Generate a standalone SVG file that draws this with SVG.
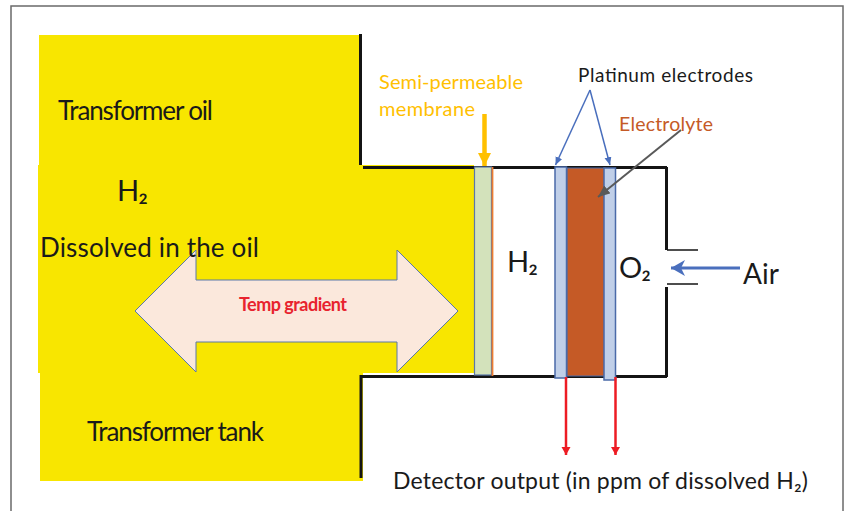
<svg xmlns="http://www.w3.org/2000/svg" width="848" height="511" viewBox="0 0 848 511">
<style>
text{font-family:Lato,"Noto Sans",sans-serif;fill:#1a1a1a}
.wall{stroke:#141414;stroke-width:3;fill:none}
.thin{stroke:#141414;stroke-width:1.3;fill:none}
.red{stroke:#ed1c24;stroke-width:2.5;fill:none}
.blue{stroke:#4a6fbd;stroke-width:1.5;fill:none}
.el{fill:#c0cfe8;stroke:#4a6aa8;stroke-width:1.5}
</style>
<defs>
<marker id="ah-red" markerUnits="userSpaceOnUse" markerWidth="12" markerHeight="10" refX="8" refY="4.5" orient="auto"><path d="M0 0L8 4.5L0 9z" fill="#ed1c24"/></marker>
<marker id="ah-blue" markerUnits="userSpaceOnUse" markerWidth="10" markerHeight="10" refX="8" refY="3.500" orient="auto"><path d="M0 0L8 3.500L0 7z" fill="#4a6fbd"/></marker>
<marker id="ah-gray" markerUnits="userSpaceOnUse" markerWidth="14" markerHeight="12" refX="12" refY="5" orient="auto"><path d="M0 0L12 5L0 10z" fill="#595959"/></marker>
<marker id="ah-orange" markerUnits="userSpaceOnUse" markerWidth="14" markerHeight="16" refX="13" refY="6.500" orient="auto"><path d="M0 0L13 6.500L0 13z" fill="#ffc000"/></marker>
<marker id="ah-air" markerUnits="userSpaceOnUse" markerWidth="18" markerHeight="18" refX="15" refY="8" orient="auto"><path d="M1 0L15 8L1 16L5 8z" fill="#4a6fbd"/></marker>
</defs>
<rect id="frame" x="11" y="6" width="832" height="520" fill="#fff" stroke="#6a6a6a" stroke-width="1.5"/>
<g id="tank-yellow">
<rect x="39" y="35" width="322" height="131" fill="#f8e600"/>
<rect x="38" y="165" width="436" height="208" fill="#f8e600"/>
<rect x="40" y="373" width="323" height="108" fill="#f8e600"/>
</g>
<g id="walls">
<path class="wall" d="M360.500 34V165"/>
<path class="wall" d="M363 167.500H667M666.500 167V250"/>
<path class="wall" d="M361 478V376.500H667M666.500 377V287"/>
<path class="thin" d="M667 250H698M667 284H698"/>
</g>
<g id="temp-gradient">
<path d="M135 311L196 250V280H397V250L458 311L397 372V342H196V372z" fill="#fbe8dc" stroke="#5b78a8" stroke-width="1"/>
<text x="239" y="311" font-size="18" font-weight="700" style="fill:#e8232e" textLength="108" lengthAdjust="spacing">Temp gradient</text>
</g>
<g id="membrane">
<rect x="474.500" y="167" width="17" height="208" fill="#d3e2bb" stroke="#5b78a8" stroke-width="1.200"/>
<path d="M492.500 167V376" stroke="#ed7d31" stroke-width="1.800" fill="none"/>
</g>
<g id="electrolyte"><rect x="567" y="168" width="38" height="208" fill="#c55a26" stroke="#4a6aa8" stroke-width="1"/></g>
<g id="electrode-1"><rect x="555" y="167" width="11.500" height="211" class="el"/></g>
<g id="electrode-2"><rect x="604" y="168" width="11.500" height="212" class="el"/></g>
<g id="connectors">
<path d="M484.500 114V166" stroke="#ffc000" stroke-width="4.500" fill="none" marker-end="url(#ah-orange)"/>
<path class="blue" d="M590 90L555.500 165" marker-end="url(#ah-blue)"/>
<path class="blue" d="M590 90L610 165" marker-end="url(#ah-blue)"/>
<path d="M681 130L598 197" stroke="#595959" stroke-width="2" fill="none" marker-end="url(#ah-gray)"/>
<path d="M740 268H671" stroke="#4a6fbd" stroke-width="3" fill="none" marker-end="url(#ah-air)"/>
<path class="red" d="M566 377V455" marker-end="url(#ah-red)"/>
<path class="red" d="M615.500 377V455" marker-end="url(#ah-red)"/>
</g>
<g id="labels">
<text x="58" y="120" font-size="26" textLength="155" lengthAdjust="spacing">Transformer oil</text>
<text x="117" y="201" font-size="29" textLength="31" lengthAdjust="spacing">H₂</text>
<text x="40" y="257" font-size="26" textLength="219" lengthAdjust="spacing">Dissolved in the oil</text>
<text x="87" y="441" font-size="26" textLength="177" lengthAdjust="spacing">Transformer tank</text>
<text x="379" y="89" font-size="20" style="fill:#ffc000" textLength="144" lengthAdjust="spacing">Semi-permeable</text>
<text x="379" y="116" font-size="20" style="fill:#ffc000" textLength="96" lengthAdjust="spacing">membrane</text>
<text x="578" y="82" font-size="19" textLength="175" lengthAdjust="spacing">Platinum electrodes</text>
<text x="619" y="131" font-size="19.500" style="fill:#c55a26" textLength="94" lengthAdjust="spacing">Electrolyte</text>
<text x="507" y="272" font-size="29" textLength="31" lengthAdjust="spacing">H₂</text>
<text x="619" y="278" font-size="29" textLength="32" lengthAdjust="spacing">O₂</text>
<text x="743" y="284" font-size="28" textLength="36" lengthAdjust="spacing">Air</text>
<text x="393" y="489" font-size="23" textLength="415" lengthAdjust="spacing">Detector output (in ppm of dissolved H₂)</text>
</g>
</svg>
